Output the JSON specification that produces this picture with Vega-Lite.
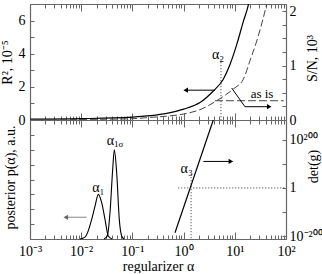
{
  "$schema": "https://vega.github.io/schema/vega-lite/v6.json",
  "background": "white",
  "padding": {"left": 0, "top": 3, "right": 0, "bottom": 0},
  "spacing": 0,
  "bounds": "flush",
  "config": {
    "view": {"stroke": null},
    "font": "Liberation Serif",
    "axis": {
      "grid": false,
      "domainColor": "#666",
      "domainWidth": 1.2,
      "tickColor": "#666",
      "tickWidth": 1,
      "labelFont": "Liberation Serif",
      "titleFont": "Liberation Serif",
      "labelFontSize": 14,
      "titleFontSize": 14,
      "titleFontWeight": "normal",
      "labelColor": "#000",
      "titleColor": "#000",
      "labelOverlap": false,
      "labelFlush": false
    }
  },
  "datasets": {
    "r2": [
      {"a": 0.001, "v": 0.05}, {"a": 0.01, "v": 0.08}, {"a": 0.1, "v": 0.17},
      {"a": 0.221, "v": 0.26}, {"a": 0.468, "v": 0.4}, {"a": 1, "v": 0.66},
      {"a": 2.09, "v": 1.05}, {"a": 3.8, "v": 1.75}, {"a": 5.96, "v": 2.46},
      {"a": 8.05, "v": 3.35}, {"a": 10.9, "v": 4.55}, {"a": 14.7, "v": 5.95},
      {"a": 18.4, "v": 6.95}, {"a": 20, "v": 7.5}
    ],
    "sn": [
      {"a": 0.001, "v": 0.005}, {"a": 0.01, "v": 0.01}, {"a": 0.1, "v": 0.024},
      {"a": 0.221, "v": 0.048}, {"a": 0.468, "v": 0.07}, {"a": 1, "v": 0.11},
      {"a": 2.09, "v": 0.19}, {"a": 4.43, "v": 0.354}, {"a": 9.35, "v": 0.57},
      {"a": 14.7, "v": 0.75}, {"a": 19.8, "v": 1.09}, {"a": 26.8, "v": 1.45},
      {"a": 36.1, "v": 1.88}, {"a": 42, "v": 2.13}
    ],
    "asis": [{"a": 4.1, "v": 0.354}, {"a": 90, "v": 0.354}],
    "leader": [{"a": 8.7, "v": 0.587, "o": 1}, {"a": 15.8, "v": 0.244, "o": 2}, {"a": 47, "v": 0.244, "o": 3}],
    "leaderHead": [{"a": 47, "v": 0.244}],
    "asisText": [{"a": 34, "v": 0.48, "t": "as is"}],
    "arrowTop": [{"a": 4.1, "v": 1.8}, {"a": 1.1, "v": 1.8}],
    "arrowTopHead": [{"a": 1.1, "v": 1.8}],
    "a2line": [{"a": 5.37, "v": 3.67}, {"a": 5.37, "v": 0}],
    "a2text": [{"a": 4.7, "v": 3.95, "t": "α₂"}],
    "p1": [
      {"a": 0.00948, "v": 0}, {"a": 0.01186, "v": 0.13}, {"a": 0.0139, "v": 0.6},
      {"a": 0.01603, "v": 1.32}, {"a": 0.01862, "v": 2.21}, {"a": 0.02158, "v": 3.0},
      {"a": 0.02512, "v": 2.44}, {"a": 0.02917, "v": 1.32}, {"a": 0.03381, "v": 0.2},
      {"a": 0.04, "v": 0}
    ],
    "p2": [
      {"a": 0.02786, "v": 0}, {"a": 0.03236, "v": 0.2}, {"a": 0.03651, "v": 1.77},
      {"a": 0.04121, "v": 4.68}, {"a": 0.04436, "v": 6.0}, {"a": 0.04932, "v": 4.45},
      {"a": 0.05546, "v": 1.32}, {"a": 0.0618, "v": 0.2}, {"a": 0.06855, "v": 0}
    ],
    "grayArrow": [{"a": 0.0128, "v": 1.46}, {"a": 0.005, "v": 1.46}],
    "grayHead": [{"a": 0.005, "v": 1.46}],
    "a1text": [{"a": 0.0216, "v": 3.45, "t": "α₁"}],
    "a1sText": [{"a": 0.0457, "v": 6.6, "t": "α", "s": "1σ"}],
    "det": [{"a": 0.679, "v": -186}, {"a": 3.8, "v": 282}],
    "detH": [{"a": 0.787, "v": 0}, {"a": 100, "v": 0}],
    "detV": [{"a": 1.4, "v": 57}, {"a": 1.4, "v": -212}],
    "a3text": [{"a": 1.15, "v": 78, "t": "α₃"}],
    "arrowBot": [{"a": 2.43, "v": 110}, {"a": 8.4, "v": 110}],
    "arrowBotHead": [{"a": 8.4, "v": 110}]
  },
  "vconcat": [
    {
      "width": 256,
      "height": 116,
      "resolve": {"scale": {"y": "independent"}, "axis": {"x": "independent"}},
      "layer": [
        {
          "data": {"name": "r2"},
          "mark": {"type": "line", "color": "#000", "strokeWidth": 1.2, "clip": true, "interpolate": "monotone"},
          "encoding": {
            "x": {"field": "a", "type": "quantitative",
              "scale": {"type": "log", "domain": [0.001, 100], "nice": false},
              "axis": {"orient": "top", "labels": false, "title": null,
                "values": [0.001,0.002,0.003,0.004,0.005,0.006,0.007,0.008,0.009,0.01,0.02,0.03,0.04,0.05,0.06,0.07,0.08,0.09,0.1,0.2,0.3,0.4,0.5,0.6,0.7,0.8,0.9,1,2,3,4,5,6,7,8,9,10,20,30,40,50,60,70,80,90,100],
                "tickSize": -4}},
            "y": {"field": "v", "type": "quantitative",
              "scale": {"domain": [0, 7], "nice": false, "zero": false},
              "axis": {"orient": "left", "values": [0,1,2,3,4,5,6],
                "labelExpr": "datum.value % 2 == 0 ? format(datum.value, 'd') : ''",
                "tickSize": -4, "labelPadding": 9, "title": "R², 10⁻⁵",
                "titleX": -22.5, "titleY": 58, "titleAngle": 270, "titleBaseline": "middle", "titleAlign": "center"}}
          }
        },
        {
          "data": {"name": "arrowTop"},
          "mark": {"type": "line", "color": "#000", "strokeWidth": 1},
          "encoding": {
            "x": {"field": "a", "type": "quantitative", "scale": {"type": "log", "domain": [0.001, 100], "nice": false}, "axis": null},
            "y": {"field": "v", "type": "quantitative", "scale": {"domain": [0, 7], "nice": false, "zero": false}, "axis": null}
          }
        },
        {
          "data": {"name": "arrowTopHead"},
          "mark": {"type": "point", "shape": "triangle-left", "filled": true, "color": "#000", "size": 28, "opacity": 1},
          "encoding": {
            "x": {"field": "a", "type": "quantitative", "scale": {"type": "log", "domain": [0.001, 100], "nice": false}, "axis": null},
            "y": {"field": "v", "type": "quantitative", "scale": {"domain": [0, 7], "nice": false, "zero": false}, "axis": null}
          }
        },
        {
          "data": {"name": "a2line"},
          "mark": {"type": "line", "color": "#333", "strokeWidth": 1, "strokeDash": [1, 2]},
          "encoding": {
            "x": {"field": "a", "type": "quantitative", "scale": {"type": "log", "domain": [0.001, 100], "nice": false}, "axis": null},
            "y": {"field": "v", "type": "quantitative", "scale": {"domain": [0, 7], "nice": false, "zero": false}, "axis": null}
          }
        },
        {
          "data": {"name": "a2text"},
          "mark": {"type": "text", "font": "Liberation Serif", "fontSize": 14, "color": "#000", "align": "center", "baseline": "middle"},
          "encoding": {
            "x": {"field": "a", "type": "quantitative", "scale": {"type": "log", "domain": [0.001, 100], "nice": false},
              "axis": {"orient": "top", "labels": false, "title": null, "domain": false, "values": [0.001, 0.01, 0.1, 1, 10, 100], "tickSize": -7}},
            "y": {"field": "v", "type": "quantitative", "scale": {"domain": [0, 7], "nice": false, "zero": false}, "axis": null},
            "text": {"field": "t"}
          }
        },
        {
          "data": {"name": "sn"},
          "mark": {"type": "line", "color": "#444", "strokeWidth": 1, "strokeDash": [7, 3], "clip": true, "interpolate": "monotone"},
          "encoding": {
            "x": {"field": "a", "type": "quantitative",
              "scale": {"type": "log", "domain": [0.001, 100], "nice": false},
              "axis": {"orient": "bottom", "labels": false, "title": null,
                "values": [0.001,0.002,0.003,0.004,0.005,0.006,0.007,0.008,0.009,0.01,0.02,0.03,0.04,0.05,0.06,0.07,0.08,0.09,0.1,0.2,0.3,0.4,0.5,0.6,0.7,0.8,0.9,1,2,3,4,5,6,7,8,9,10,20,30,40,50,60,70,80,90,100],
                "tickSize": -4}},
            "y": {"field": "v", "type": "quantitative",
              "scale": {"domain": [0, 2.13], "nice": false, "zero": false},
              "axis": {"orient": "right", "values": [0,0.25,0.5,0.75,1,1.25,1.5,1.75,2],
                "labelExpr": "datum.value % 1 == 0 ? format(datum.value, 'd') : ''",
                "tickSize": -4, "labelPadding": 7, "title": "S/N, 10³",
                "titleX": 26, "titleY": 54, "titleAngle": 270, "titleBaseline": "middle", "titleAlign": "center"}}
          }
        },
        {
          "data": {"name": "asis"},
          "mark": {"type": "line", "color": "#444", "strokeWidth": 1, "strokeDash": [8, 3]},
          "encoding": {
            "x": {"field": "a", "type": "quantitative", "scale": {"type": "log", "domain": [0.001, 100], "nice": false}, "axis": null},
            "y": {"field": "v", "type": "quantitative", "scale": {"domain": [0, 2.13], "nice": false, "zero": false}, "axis": null}
          }
        },
        {
          "data": {"name": "leader"},
          "mark": {"type": "line", "color": "#000", "strokeWidth": 1},
          "encoding": {
            "x": {"field": "a", "type": "quantitative", "scale": {"type": "log", "domain": [0.001, 100], "nice": false}, "axis": null},
            "y": {"field": "v", "type": "quantitative", "scale": {"domain": [0, 2.13], "nice": false, "zero": false}, "axis": null},
            "order": {"field": "o"}
          }
        },
        {
          "data": {"name": "leaderHead"},
          "mark": {"type": "point", "shape": "triangle-right", "filled": true, "color": "#000", "size": 28, "opacity": 1},
          "encoding": {
            "x": {"field": "a", "type": "quantitative", "scale": {"type": "log", "domain": [0.001, 100], "nice": false}, "axis": null},
            "y": {"field": "v", "type": "quantitative", "scale": {"domain": [0, 2.13], "nice": false, "zero": false}, "axis": null}
          }
        },
        {
          "data": {"name": "asisText"},
          "mark": {"type": "text", "font": "Liberation Serif", "fontSize": 13, "color": "#000", "align": "center", "baseline": "middle"},
          "encoding": {
            "x": {"field": "a", "type": "quantitative", "scale": {"type": "log", "domain": [0.001, 100], "nice": false},
              "axis": {"orient": "bottom", "labels": false, "title": null, "domain": false, "values": [0.001, 0.01, 0.1, 1, 10, 100], "tickSize": -7}},
            "y": {"field": "v", "type": "quantitative", "scale": {"domain": [0, 2.13], "nice": false, "zero": false}, "axis": null},
            "text": {"field": "t"}
          }
        }
      ]
    },
    {
      "width": 256,
      "height": 119,
      "resolve": {"scale": {"y": "independent"}, "axis": {"x": "independent"}},
      "layer": [
        {
          "data": {"name": "p1"},
          "mark": {"type": "line", "color": "#000", "strokeWidth": 1.1, "interpolate": "monotone"},
          "encoding": {
            "x": {"field": "a", "type": "quantitative",
              "scale": {"type": "log", "domain": [0.001, 100], "nice": false},
              "axis": {"orient": "top", "labels": false, "title": null,
                "values": [0.001,0.002,0.003,0.004,0.005,0.006,0.007,0.008,0.009,0.01,0.02,0.03,0.04,0.05,0.06,0.07,0.08,0.09,0.1,0.2,0.3,0.4,0.5,0.6,0.7,0.8,0.9,1,2,3,4,5,6,7,8,9,10,20,30,40,50,60,70,80,90,100],
                "tickSize": -4}},
            "y": {"field": "v", "type": "quantitative",
              "scale": {"domain": [0, 8], "nice": false, "zero": false},
              "axis": {"orient": "left", "values": [0,1,2,3,4,5,6,7,8], "labels": false,
                "tickSize": -4, "title": "posterior p(α), a.u.",
                "titleX": -20, "titleY": 57, "titleAngle": 270, "titleBaseline": "middle", "titleAlign": "center"}}
          }
        },
        {
          "data": {"name": "p2"},
          "mark": {"type": "line", "color": "#000", "strokeWidth": 1.1, "interpolate": "monotone"},
          "encoding": {
            "x": {"field": "a", "type": "quantitative", "scale": {"type": "log", "domain": [0.001, 100], "nice": false}, "axis": null},
            "y": {"field": "v", "type": "quantitative", "scale": {"domain": [0, 8], "nice": false, "zero": false}, "axis": null}
          }
        },
        {
          "data": {"name": "grayArrow"},
          "mark": {"type": "line", "color": "#999", "strokeWidth": 1.2},
          "encoding": {
            "x": {"field": "a", "type": "quantitative", "scale": {"type": "log", "domain": [0.001, 100], "nice": false}, "axis": null},
            "y": {"field": "v", "type": "quantitative", "scale": {"domain": [0, 8], "nice": false, "zero": false}, "axis": null}
          }
        },
        {
          "data": {"name": "grayHead"},
          "mark": {"type": "point", "shape": "triangle-left", "filled": true, "color": "#666", "size": 28, "opacity": 1},
          "encoding": {
            "x": {"field": "a", "type": "quantitative", "scale": {"type": "log", "domain": [0.001, 100], "nice": false}, "axis": null},
            "y": {"field": "v", "type": "quantitative", "scale": {"domain": [0, 8], "nice": false, "zero": false}, "axis": null}
          }
        },
        {
          "data": {"name": "a1sText"},
          "mark": {"type": "text", "font": "Liberation Serif", "fontSize": 14, "color": "#000", "align": "right", "baseline": "middle", "dx": -1},
          "encoding": {
            "x": {"field": "a", "type": "quantitative", "scale": {"type": "log", "domain": [0.001, 100], "nice": false}, "axis": null},
            "y": {"field": "v", "type": "quantitative", "scale": {"domain": [0, 8], "nice": false, "zero": false}, "axis": null},
            "text": {"field": "t"}
          }
        },
        {
          "data": {"name": "a1sText"},
          "mark": {"type": "text", "font": "Liberation Serif", "fontSize": 9, "color": "#000", "align": "left", "baseline": "middle", "dx": -1, "dy": 3},
          "encoding": {
            "x": {"field": "a", "type": "quantitative", "scale": {"type": "log", "domain": [0.001, 100], "nice": false}, "axis": null},
            "y": {"field": "v", "type": "quantitative", "scale": {"domain": [0, 8], "nice": false, "zero": false}, "axis": null},
            "text": {"field": "s"}
          }
        },
        {
          "data": {"name": "a1text"},
          "mark": {"type": "text", "font": "Liberation Serif", "fontSize": 14, "color": "#000", "align": "center", "baseline": "middle"},
          "encoding": {
            "x": {"field": "a", "type": "quantitative", "scale": {"type": "log", "domain": [0.001, 100], "nice": false},
              "axis": {"orient": "top", "labels": false, "title": null, "domain": false, "values": [0.001, 0.01, 0.1, 1, 10, 100], "tickSize": -7}},
            "y": {"field": "v", "type": "quantitative", "scale": {"domain": [0, 8], "nice": false, "zero": false}, "axis": null},
            "text": {"field": "t"}
          }
        },
        {
          "data": {"name": "det"},
          "mark": {"type": "line", "color": "#000", "strokeWidth": 1.2, "clip": true},
          "encoding": {
            "x": {"field": "a", "type": "quantitative",
              "scale": {"type": "log", "domain": [0.001, 100], "nice": false},
              "axis": {"orient": "bottom",
                "values": [0.001,0.002,0.003,0.004,0.005,0.006,0.007,0.008,0.009,0.01,0.02,0.03,0.04,0.05,0.06,0.07,0.08,0.09,0.1,0.2,0.3,0.4,0.5,0.6,0.7,0.8,0.9,1,2,3,4,5,6,7,8,9,10,20,30,40,50,60,70,80,90,100],
                "labelExpr": "abs(log(datum.value)/LN10 - round(log(datum.value)/LN10)) < 0.01 ? ['10⁻³','10⁻²','10⁻¹','10⁰','10¹','10²'][round(log(datum.value)/LN10)+3] : ''",
                "tickSize": -4, "labelPadding": 9, "title": "regularizer α",
                "titleY": 27, "titleBaseline": "middle", "titleAlign": "center"}},
            "y": {"field": "v", "type": "quantitative",
              "scale": {"domain": [-212, 282], "nice": false, "zero": false},
              "axis": {"orient": "right", "values": [-200,-100,0,100,200],
                "labelExpr": "datum.value == 200 ? '10²⁰⁰' : datum.value == 0 ? '1' : datum.value == -200 ? '10⁻²⁰⁰' : ''",
                "tickSize": -4, "labelPadding": 7, "title": "det(g)",
                "titleX": 27, "titleY": 46, "titleAngle": 270, "titleBaseline": "middle", "titleAlign": "center"}}
          }
        },
        {
          "data": {"name": "detH"},
          "mark": {"type": "line", "color": "#333", "strokeWidth": 1, "strokeDash": [1, 2]},
          "encoding": {
            "x": {"field": "a", "type": "quantitative", "scale": {"type": "log", "domain": [0.001, 100], "nice": false}, "axis": null},
            "y": {"field": "v", "type": "quantitative", "scale": {"domain": [-212, 282], "nice": false, "zero": false}, "axis": null}
          }
        },
        {
          "data": {"name": "detV"},
          "mark": {"type": "line", "color": "#333", "strokeWidth": 1, "strokeDash": [1, 2]},
          "encoding": {
            "x": {"field": "a", "type": "quantitative", "scale": {"type": "log", "domain": [0.001, 100], "nice": false}, "axis": null},
            "y": {"field": "v", "type": "quantitative", "scale": {"domain": [-212, 282], "nice": false, "zero": false}, "axis": null}
          }
        },
        {
          "data": {"name": "arrowBot"},
          "mark": {"type": "line", "color": "#000", "strokeWidth": 1},
          "encoding": {
            "x": {"field": "a", "type": "quantitative", "scale": {"type": "log", "domain": [0.001, 100], "nice": false}, "axis": null},
            "y": {"field": "v", "type": "quantitative", "scale": {"domain": [-212, 282], "nice": false, "zero": false}, "axis": null}
          }
        },
        {
          "data": {"name": "arrowBotHead"},
          "mark": {"type": "point", "shape": "triangle-right", "filled": true, "color": "#000", "size": 28, "opacity": 1},
          "encoding": {
            "x": {"field": "a", "type": "quantitative", "scale": {"type": "log", "domain": [0.001, 100], "nice": false}, "axis": null},
            "y": {"field": "v", "type": "quantitative", "scale": {"domain": [-212, 282], "nice": false, "zero": false}, "axis": null}
          }
        },
        {
          "data": {"name": "a3text"},
          "mark": {"type": "text", "font": "Liberation Serif", "fontSize": 14, "color": "#000", "align": "center", "baseline": "middle"},
          "encoding": {
            "x": {"field": "a", "type": "quantitative", "scale": {"type": "log", "domain": [0.001, 100], "nice": false},
              "axis": {"orient": "bottom", "labels": false, "title": null, "domain": false, "values": [0.001, 0.01, 0.1, 1, 10, 100], "tickSize": -7}},
            "y": {"field": "v", "type": "quantitative", "scale": {"domain": [-212, 282], "nice": false, "zero": false}, "axis": null},
            "text": {"field": "t"}
          }
        }
      ]
    }
  ]
}
